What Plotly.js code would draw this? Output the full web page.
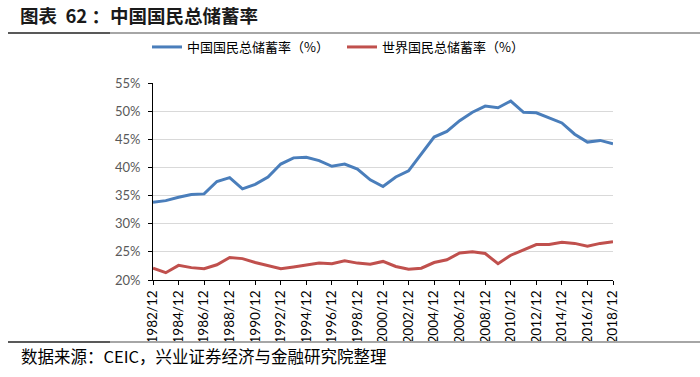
<!DOCTYPE html>
<html>
<head>
<meta charset="utf-8">
<script src="https://cdn.plot.ly/plotly-3.0.1.min.js"></script>
<style>html,body{margin:0;padding:0;background:#fff;}#chart{width:700px;height:377px;}</style>
</head>
<body>
<div id="chart"></div>
<script>
const years = ["1982/12","1983/12","1984/12","1985/12","1986/12","1987/12","1988/12","1989/12","1990/12","1991/12",
  "1992/12","1993/12","1994/12","1995/12","1996/12","1997/12","1998/12","1999/12","2000/12","2001/12",
  "2002/12","2003/12","2004/12","2005/12","2006/12","2007/12","2008/12","2009/12","2010/12","2011/12",
  "2012/12","2013/12","2014/12","2015/12","2016/12","2017/12","2018/12"];
const tickLabels = ["1982/12","1984/12","1986/12","1988/12","1990/12","1992/12","1994/12","1996/12","1998/12",
  "2000/12","2002/12","2004/12","2006/12","2008/12","2010/12","2012/12","2014/12","2016/12","2018/12"];
const chinaRate = [33.8,34.1,34.7,35.2,35.3,37.5,38.2,36.2,37.0,38.3,
  40.6,41.7,41.8,41.2,40.2,40.6,39.7,37.8,36.6,38.3,
  39.4,42.4,45.4,46.4,48.3,49.8,50.9,50.6,51.8,49.8,
  49.7,48.8,47.9,45.9,44.5,44.8,44.2];
const worldRate = [22.1,21.3,22.6,22.2,22.0,22.7,24.0,23.8,23.1,22.5,
  22.0,22.3,22.6,23.0,22.9,23.4,23.0,22.8,23.3,22.4,
  21.9,22.1,23.1,23.6,24.8,25.0,24.7,22.9,24.4,25.3,
  26.3,26.3,26.7,26.5,26.0,26.5,26.8];
const seriesNames = ["中国国民总储蓄率（%）","世界国民总储蓄率（%）"];
const titleText = "<b>图表  62 ：中国国民总储蓄率</b>";
const sourceText = "数据来源：CEIC，兴业证券经济与金融研究院整理";

const cjk = '"Noto Sans CJK SC", "Noto Sans", sans-serif';
const num = 'Lato, "Liberation Sans", sans-serif';

const W = 700, H = 377, L = 153, R = 87, T = 83, B = 97;
const pw = W - L - R, ph = H - T - B;
const px = x => (x - L) / pw;
const py = y => (H - B - y) / ph;

const traces = [
  {x: years, y: chinaRate.map(v => v / 100), name: seriesNames[0], type: 'scatter', mode: 'lines',
   line: {color: '#4a7ebb', width: 3}},
  {x: years, y: worldRate.map(v => v / 100), name: seriesNames[1], type: 'scatter', mode: 'lines',
   line: {color: '#c0504d', width: 3}}
];

const layout = {
  width: W, height: H,
  margin: {l: L, r: R, t: T, b: B, pad: 0},
  paper_bgcolor: '#fff', plot_bgcolor: '#fff',
  font: {family: cjk, color: '#000'},
  title: {text: titleText, x: 20 / W, xanchor: 'left', xref: 'container', y: 1 - 17 / H, yanchor: 'middle', yref: 'container',
          font: {family: cjk, size: 18.5, color: '#1a1a1a'}},
  showlegend: true,
  legend: {orientation: 'h', x: px(147), xanchor: 'left', y: py(47), yanchor: 'middle',
           font: {family: cjk, size: 13, color: '#000'}, itemwidth: 30, bgcolor: 'rgba(0,0,0,0)',
           entrywidth: 150, entrywidthmode: 'pixels'},
  xaxis: {type: 'category', range: [0, years.length - 1], tickmode: 'array', tickvals: tickLabels, ticktext: tickLabels,
          tickangle: -90, ticks: 'outside', ticklen: 4, tickcolor: '#000', tickwidth: 1,
          showline: true, linecolor: '#000', linewidth: 1, showgrid: false, zeroline: false,
          tickfont: {family: num, size: 13.5, color: '#000'}, fixedrange: true},
  yaxis: {range: [0.2, 0.55], tickvals: [0.2,0.25,0.3,0.35,0.4,0.45,0.5,0.55], tickformat: '.0%',
          ticks: 'outside', ticklen: 4, tickcolor: '#000', tickwidth: 1, ticklabelstandoff: 5,
          showline: true, linecolor: '#000', linewidth: 1, showgrid: true, gridcolor: '#d9d9d9', gridwidth: 1,
          zeroline: false, tickfont: {family: num, size: 13, color: '#595959'}, fixedrange: true},
  shapes: [
    {type: 'line', xref: 'paper', yref: 'paper', x0: px(8), x1: px(700), y0: py(33), y1: py(33), line: {color: '#a6a6a6', width: 2}},
    {type: 'line', xref: 'paper', yref: 'paper', x0: px(8), x1: px(110), y0: py(33), y1: py(33), line: {color: '#595959', width: 2}},
    {type: 'line', xref: 'paper', yref: 'paper', x0: px(8), x1: px(700), y0: py(342), y1: py(342), line: {color: '#a6a6a6', width: 2}},
    {type: 'line', xref: 'paper', yref: 'paper', x0: px(8), x1: px(110), y0: py(342), y1: py(342), line: {color: '#595959', width: 2}}
  ],
  annotations: [
    {text: sourceText, xref: 'paper', yref: 'paper', x: px(19), y: py(356), xanchor: 'left', yanchor: 'middle',
     showarrow: false, font: {family: cjk, size: 16.5, color: '#000'}}
  ]
};

Plotly.newPlot('chart', traces, layout, {displayModeBar: false, staticPlot: true});
</script>
</body>
</html>
